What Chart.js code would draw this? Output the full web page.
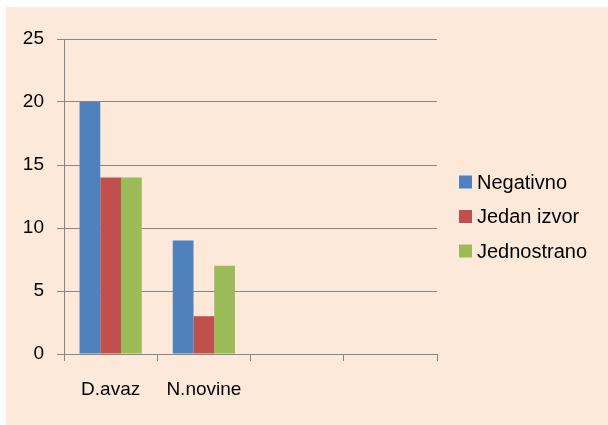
<!DOCTYPE html>
<html>
<head>
<meta charset="utf-8">
<script src="https://cdn.jsdelivr.net/npm/chart.js@4"></script>
<style>
  html, body { margin: 0; padding: 0; background: #fff; }
  #box { position: absolute; left: 6px; top: 7px; width: 602px; height: 418px; background: #fde9d9; }
</style>
</head>
<body>
<div id="box"><canvas id="c"></canvas></div>
<script>
const categories = ["D.avaz", "N.novine", "", ""];
const negativno = [20, 9, null, null];
const jedanIzvor = [14, 3, null, null];
const jednostrano = [14, 7, null, null];
const seriesNames = ["Negativno", "Jedan izvor", "Jednostrano"];
const yTicks = [0, 5, 10, 15, 20, 25];

const FONT = "'Liberation Sans', Arial, sans-serif";
const GRID = "#868686";

// legend drawn by hand so the box/text gap matches the original
const legendPlugin = {
  id: "sideLegend",
  afterDraw(chart){
    const ctx = chart.ctx;
    const x = chart.chartArea.right + 22;
    const y0 = 175;
    ctx.save();
    ctx.font = "20px " + FONT;
    ctx.textBaseline = "middle";
    ctx.fillStyle = "#000";
    chart.data.datasets.forEach((ds, i) => {
      const y = y0 + i * 34.5;
      ctx.fillStyle = ds.backgroundColor;
      ctx.fillRect(x, y - 6.5, 13, 13);
      ctx.fillStyle = "#000";
      ctx.fillText(ds.label, x + 18, y + 1);
    });
    ctx.restore();
  }
};

new Chart(document.getElementById("c"), {
  type: "bar",
  data: {
    labels: categories,
    datasets: [
      { label: seriesNames[0], data: negativno, backgroundColor: "#4f81bd" },
      { label: seriesNames[1], data: jedanIzvor, backgroundColor: "#c0504d" },
      { label: seriesNames[2], data: jednostrano, backgroundColor: "#9bbb59" }
    ]
  },
  options: {
    responsive: true,
    maintainAspectRatio: false,
    animation: false,
    layout: { padding: { top: 32, right: 171, bottom: 0, left: 0 } },
    datasets: { bar: { categoryPercentage: 0.667, barPercentage: 1 } },
    plugins: { legend: { display: false }, tooltip: { enabled: false } },
    scales: {
      x: {
        afterFit: s => { s.height = 71; },
        grid: { drawOnChartArea: false, drawTicks: true, tickLength: 7, color: GRID, offset: true },
        border: { color: GRID },
        ticks: { color: "#000", font: { family: FONT, size: 19 }, padding: 17, maxRotation: 0 }
      },
      y: {
        min: 0,
        max: 25,
        afterFit: s => { s.width = 58; },
        afterBuildTicks: s => { s.ticks = yTicks.map(v => ({ value: v })); },
        grid: { color: GRID, tickLength: 7 },
        border: { color: GRID },
        ticks: { color: "#000", font: { family: FONT, size: 19 }, padding: 13 }
      }
    }
  },
  plugins: [legendPlugin]
});
</script>
</body>
</html>
